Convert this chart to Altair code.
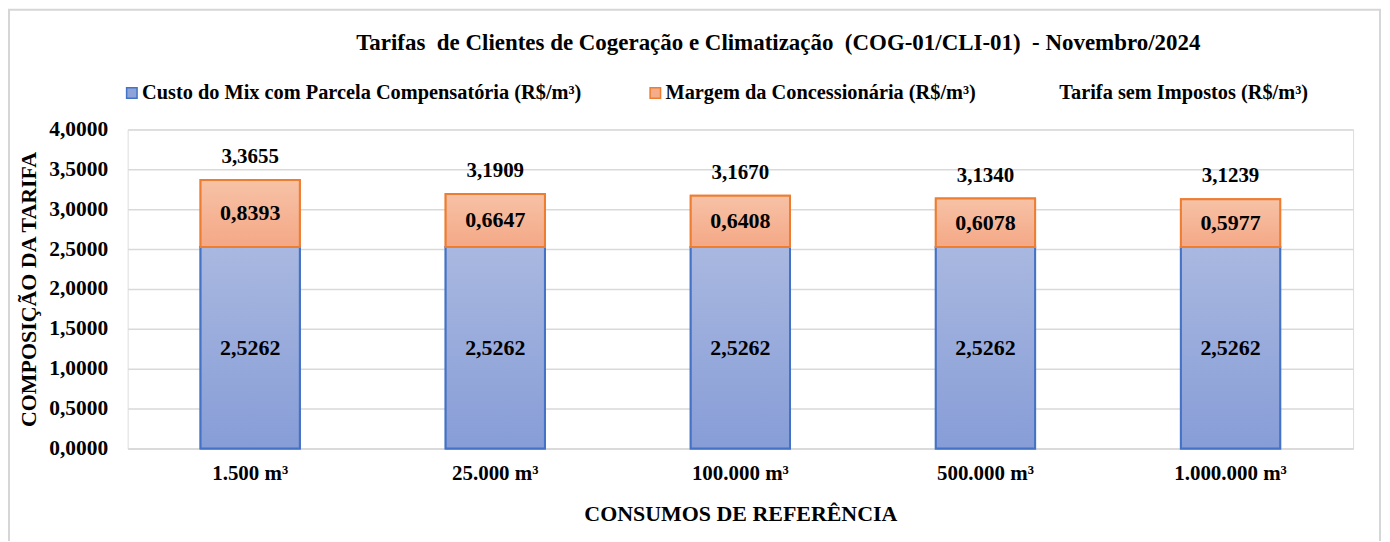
import altair as alt
import pandas as pd

# ---- data ----
categories = ["1.500 m³", "25.000 m³", "100.000 m³", "500.000 m³", "1.000.000 m³"]
custo = [2.5262, 2.5262, 2.5262, 2.5262, 2.5262]
margem = [0.8393, 0.6647, 0.6408, 0.6078, 0.5977]
tarifa = [3.3655, 3.1909, 3.1670, 3.1340, 3.1239]
series_names = [
    "Custo do Mix com Parcela Compensatória (R$/m³)",
    "Margem da Concessionária (R$/m³)",
    "Tarifa sem Impostos (R$/m³)",
]
y_ticks = [0, 0.5, 1, 1.5, 2, 2.5, 3, 3.5, 4]

title_text = "Tarifas\u00a0 de Clientes de Cogeração e Climatização\u00a0 (COG-01/CLI-01)\u00a0 - Novembro/2024"

FONT = "Liberation Serif"
W, H = 1229, 320
PAD = {"left": 120, "top": 121, "right": 29, "bottom": 92}

wide = pd.DataFrame({"consumo": categories, "custo": custo, "margem": margem, "tarifa": tarifa})
long = pd.DataFrame({
    "consumo": categories * 2,
    "serie": [series_names[0]] * len(categories) + [series_names[1]] * len(categories),
    "valor": custo + margem,
    "ordem": [0] * len(categories) + [1] * len(categories),
})

fmt = "replace(format({v}, '.4f'), '.', ',')"

x_enc = alt.X(
    "consumo:N", sort=categories,
    scale=alt.Scale(paddingInner=0.595, paddingOuter=0.2975),
    axis=alt.Axis(
        title="CONSUMOS DE REFERÊNCIA", labelAngle=0, labelFont=FONT, labelFontSize=21,
        labelFontWeight="bold", labelColor="#000000", labelPadding=14, ticks=False,
        domainColor="#D9D9D9", domainWidth=1.5, titleFont=FONT, titleFontSize=22,
        titleFontWeight="bold", titleColor="#000000", titlePadding=20,
    ),
)

y_axis = alt.Axis(
    title="COMPOSIÇÃO DA TARIFA", values=y_ticks, labelFont=FONT, labelFontSize=21.5,
    labelFontWeight="bold", labelColor="#000000", labelPadding=20, ticks=False, domain=False,
    labelExpr="replace(format(datum.value, '.4f'), '.', ',')",
    gridColor="#D9D9D9", gridWidth=1.5, titleFont=FONT, titleFontSize=22,
    titleFontWeight="bold", titleColor="#000000", titlePadding=8,
)
y_scale = alt.Scale(domain=[0, 4], nice=False)

def Y(field):
    return alt.Y(field, scale=y_scale, axis=y_axis, title="COMPOSIÇÃO DA TARIFA")

legend_kw = dict(
    orient="none", legendX=-6, legendY=-47, direction="horizontal", title=None,
    symbolType="square", symbolSize=110, symbolStrokeWidth=1.5, labelFont=FONT,
    labelFontSize=20.4, labelFontWeight="bold", labelColor="#000000", labelOffset=0,
    columnPadding=63, padding=0, labelLimit=600,
)

base = alt.Chart(long).mark_bar(strokeWidth=2).encode(
    x=x_enc,
    y=alt.Y("valor:Q", stack="zero", scale=y_scale, axis=y_axis, title="COMPOSIÇÃO DA TARIFA"),
    color=alt.Color("serie:N", scale=alt.Scale(domain=series_names,
                    range=["#8EA3D9", "#F4AC8A", "transparent"]),
                    legend=alt.Legend(**legend_kw)),
    stroke=alt.Stroke("serie:N", scale=alt.Scale(domain=series_names,
                      range=["#4472C4", "#ED7D31", "transparent"]),
                      legend=alt.Legend(**legend_kw)),
    order=alt.Order("ordem:Q"),
)

grad_blue = alt.LinearGradient(
    gradient="linear", x1=0, x2=0, y1=0, y2=1,
    stops=[alt.GradientStop(offset=0, color="#A9B8E0"), alt.GradientStop(offset=1, color="#879DD7")],
)
grad_orange = alt.LinearGradient(
    gradient="linear", x1=0, x2=0, y1=0, y2=1,
    stops=[alt.GradientStop(offset=0, color="#F7C2A6"), alt.GradientStop(offset=1, color="#F4A886")],
)

blue = alt.Chart(wide).mark_bar(fill=grad_blue, stroke="#4472C4", strokeWidth=2).encode(
    x=x_enc, y=Y("custo:Q"),
)
orange = alt.Chart(wide).transform_calculate(topo="datum.custo + datum.margem").mark_bar(
    fill=grad_orange, stroke="#ED7D31", strokeWidth=2
).encode(x=x_enc, y=Y("custo:Q"), y2="topo:Q")

txt_kw = dict(font=FONT, fontWeight="bold", color="#000000", baseline="middle", align="center")

lab_blue = alt.Chart(wide).transform_calculate(
    pos="datum.custo / 2", lab=fmt.format(v="datum.custo")
).mark_text(fontSize=22, **txt_kw).encode(x=x_enc, y=Y("pos:Q"), text="lab:N")

lab_orange = alt.Chart(wide).transform_calculate(
    pos="datum.custo + datum.margem / 2", lab=fmt.format(v="datum.margem")
).mark_text(fontSize=22, **txt_kw).encode(x=x_enc, y=Y("pos:Q"), text="lab:N")

lab_total = alt.Chart(wide).transform_calculate(
    lab=fmt.format(v="datum.tarifa")
).mark_text(fontSize=21, dy=-23, **txt_kw).encode(x=x_enc, y=Y("tarifa:Q"), text="lab:N")

# chart title as a text mark placed above the legend
title_mark = alt.Chart(alt.Data(values=[{"t": title_text}])).mark_text(
    font=FONT, fontSize=23, fontWeight="bold", color="#000000", align="center", baseline="middle"
).encode(x=alt.value(W / 2 + 38), y=alt.value(-87), text="t:N")

# light outer frame of the chart (kept inside the drawing surface)
frame = alt.Chart(alt.Data(values=[{"a": 1}])).mark_rect(
    fillOpacity=0, fill="#ffffff", stroke="#D6D6D6", strokeOpacity=1, strokeWidth=2
).encode(
    x=alt.value(-PAD["left"] + 1), x2=alt.value(W + PAD["right"] - 2),
    y=alt.value(-PAD["top"] + 1), y2=alt.value(H + PAD["bottom"] + 10),
)

chart = alt.layer(frame, base, blue, orange, lab_blue, lab_orange, lab_total, title_mark).properties(
    width=W, height=H,
    padding=PAD,
    autosize=alt.AutoSizeParams(type="none"),
).configure_view(stroke=None).configure(background="white")

chart.save("out.html", embed_options={"renderer": "svg", "actions": False})
